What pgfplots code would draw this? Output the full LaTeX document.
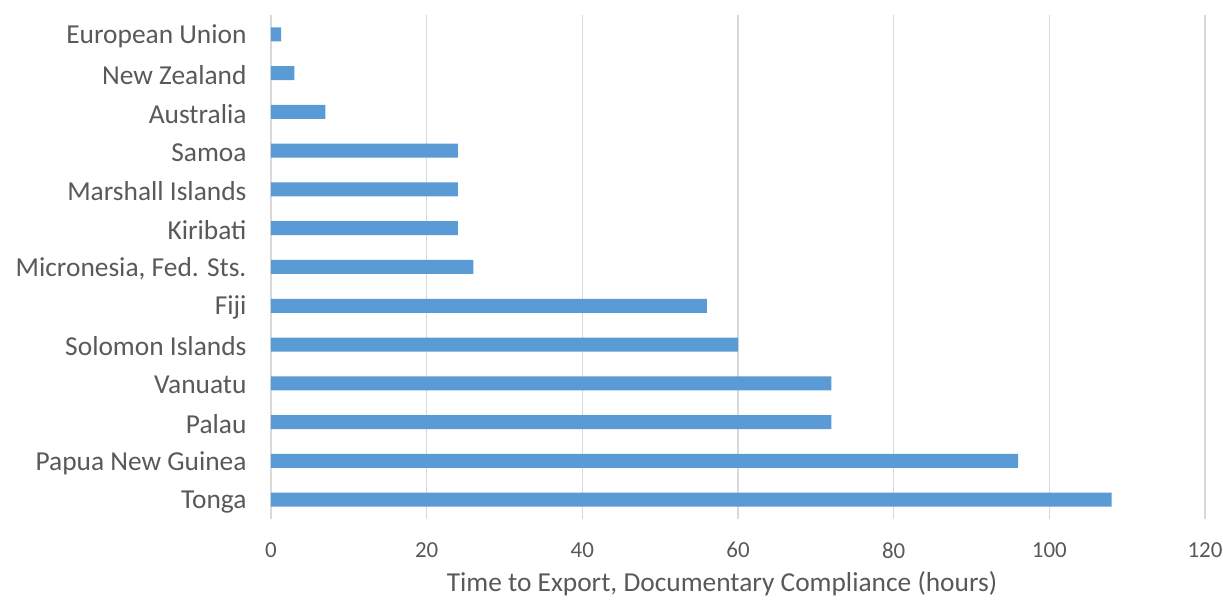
\documentclass[border=0pt]{standalone}
\usepackage{pgfplots}
\pgfplotsset{compat=1.18}
\usepackage{fontspec}
\setmainfont{Carlito}
\definecolor{barblue}{HTML}{5B9BD5}
\definecolor{gridgray}{HTML}{D9D9D9}
\definecolor{txtgray}{HTML}{595959}
\begin{document}
\begin{tikzpicture}
\begin{axis}[
  scale only axis,
  width=934bp, height=504bp,
  xbar, bar width=14bp,
  xmin=0, xmax=120,
  ymin=-0.5, ymax=12.5,
  xtick={0,20,...,120},
  ytick={0,...,12},
  yticklabels={Tonga,Papua New Guinea,Palau,Vanuatu,Solomon Islands,Fiji,{Micronesia, Fed. Sts.},Kiribati,Marshall Islands,Samoa,Australia,New Zealand,European Union},
  xmajorgrids, grid style={draw=gridgray, line width=1.2bp},
  axis line style={draw=none},
  major tick length=0pt,
  xticklabel style={font=\fontsize{23}{27}\selectfont, text=txtgray, yshift=-20bp},
  yticklabel style={font=\fontsize{27.5}{32}\selectfont, text=txtgray, xshift=-21bp, yshift=-2bp},
  /pgf/number format/assume math mode=true,
  xlabel={Time to Export, Documentary Compliance (hours)},
  xlabel style={font=\fontsize{27.5}{32}\selectfont, text=txtgray, yshift=-6bp, xshift=-16bp},
  clip=false,
]
\addplot[fill=barblue, draw=none] coordinates {
(108,0) (96,1) (72,2) (72,3) (60,4) (56,5) (26,6) (24,7) (24,8) (24,9) (7,10) (3,11) (1.3,12)
};
\coordinate (o) at (rel axis cs:0,0);
\end{axis}
\pgfresetboundingbox
\path (o) ++(-271bp,-82bp) rectangle ++(1223bp,601bp);
\end{tikzpicture}
\end{document}
